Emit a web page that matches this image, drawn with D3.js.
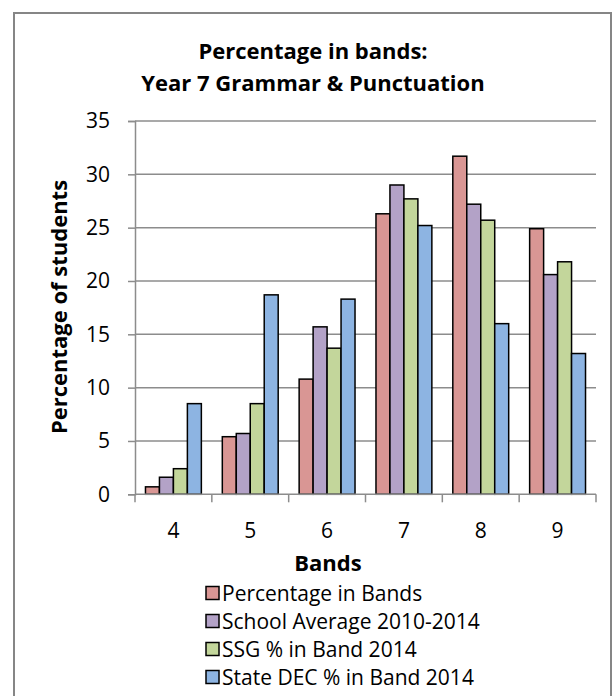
<!DOCTYPE html>
<html>
<head>
<meta charset="utf-8">
<script src="https://cdn.jsdelivr.net/npm/d3@7"></script>
<style>
  body { margin: 0; background: #fff; }
  svg { display: block; font-family: 'Open Sans', sans-serif; }
</style>
</head>
<body>
<svg width="614" height="696"></svg>
<script>
// chart data
var bands = ['4', '5', '6', '7', '8', '9'];
var seriesNames = ['Percentage in Bands', 'School Average 2010-2014', 'SSG % in Band 2014', 'State DEC % in Band 2014'];
var pctInBands = [0.7, 5.4, 10.8, 26.3, 31.7, 24.9];
var schoolAvg = [1.6, 5.7, 15.7, 29.0, 27.2, 20.6];
var ssgPct = [2.4, 8.5, 13.7, 27.7, 25.7, 21.8];
var stateDecPct = [8.5, 18.7, 18.3, 25.2, 16.0, 13.2];
var yTicks = [0, 5, 10, 15, 20, 25, 30, 35];
var colors = ['#D99694', '#B3A2C7', '#C3D69B', '#8DB4E2'];

var allSeries = [pctInBands, schoolAvg, ssgPct, stateDecPct];

var svg = d3.select('svg');

// outer chart border
svg.append('rect')
    .attr('x', 14).attr('y', 13)
    .attr('width', 597).attr('height', 720)
    .attr('fill', 'none')
    .attr('stroke', '#868686')
    .attr('stroke-width', 2);

var plot = {l: 135, r: 596, t: 121, b: 494.3};

var x0 = d3.scaleBand().domain(bands).range([plot.l, plot.r]);
var x1 = d3.scaleBand().domain(d3.range(seriesNames.length))
    .range([0, x0.bandwidth()]).paddingOuter(0.75);
var y = d3.scaleLinear().domain([0, 35]).range([plot.b, plot.t]);

// gridlines
svg.append('g').selectAll('line')
    .data(yTicks.slice(1))
    .join('line')
    .attr('x1', plot.l).attr('x2', plot.r)
    .attr('y1', function(d) { return y(d); })
    .attr('y2', function(d) { return y(d); })
    .attr('stroke', '#8c8c8c')
    .attr('stroke-width', 1.5);

// y axis
var yAx = svg.append('g')
    .attr('transform', 'translate(' + plot.l + ',0)')
    .call(d3.axisLeft(y).tickValues(yTicks).tickSize(7).tickPadding(18));
yAx.select('.domain').attr('stroke', '#8c8c8c').attr('stroke-width', 1.5);
yAx.selectAll('.tick line').attr('stroke', '#8c8c8c').attr('stroke-width', 1.5);
yAx.selectAll('.tick text').attr('font-size', 21).attr('fill', '#000')
    .attr('font-family', "'Open Sans', sans-serif");

// bars
var groups = svg.append('g').selectAll('g')
    .data(bands)
    .join('g')
    .attr('transform', function(d) { return 'translate(' + x0(d) + ',0)'; });

groups.selectAll('rect')
    .data(function(d, i) {
        return allSeries.map(function(s, k) { return {k: k, v: s[i]}; });
    })
    .join('rect')
    .attr('x', function(d) { return x1(d.k); })
    .attr('width', x1.bandwidth())
    .attr('y', function(d) { return y(d.v); })
    .attr('height', function(d) { return y(0) - y(d.v); })
    .attr('fill', function(d) { return colors[d.k]; })
    .attr('stroke', '#000')
    .attr('stroke-width', 1.5);

// x axis: line, boundary ticks, labels
var xAx = svg.append('g');
xAx.append('line')
    .attr('x1', plot.l).attr('x2', plot.r)
    .attr('y1', plot.b).attr('y2', plot.b)
    .attr('stroke', '#8c8c8c').attr('stroke-width', 1.5);
var bounds = bands.map(function(d) { return x0(d); }).concat([plot.r]);
xAx.selectAll('.bt')
    .data(bounds)
    .join('line')
    .attr('class', 'bt')
    .attr('x1', function(d) { return d; }).attr('x2', function(d) { return d; })
    .attr('y1', plot.b).attr('y2', plot.b + 8)
    .attr('stroke', '#8c8c8c').attr('stroke-width', 1.5);
xAx.selectAll('text')
    .data(bands)
    .join('text')
    .attr('x', function(d) { return x0(d) + x0.bandwidth() / 2; })
    .attr('y', 538)
    .attr('text-anchor', 'middle')
    .attr('font-size', 21)
    .text(function(d) { return d; });

// titles
var title = svg.append('text')
    .attr('text-anchor', 'middle')
    .attr('font-size', 22)
    .attr('font-weight', 'bold');
title.append('tspan').attr('x', 313).attr('y', 59).text('Percentage in bands:');
title.append('tspan').attr('x', 313).attr('y', 91).text('Year 7 Grammar & Punctuation');

svg.append('text')
    .attr('transform', 'translate(67,307) rotate(-90)')
    .attr('text-anchor', 'middle')
    .attr('font-size', 22)
    .attr('font-weight', 'bold')
    .text('Percentage of students');

svg.append('text')
    .attr('x', 328).attr('y', 571)
    .attr('text-anchor', 'middle')
    .attr('font-size', 22)
    .attr('font-weight', 'bold')
    .text('Bands');

// legend
var legend = svg.append('g').selectAll('g')
    .data(seriesNames)
    .join('g')
    .attr('transform', function(d, i) { return 'translate(206,' + (593 + i * 28) + ')'; });
legend.append('rect')
    .attr('x', 0).attr('y', -6.5)
    .attr('width', 13).attr('height', 13)
    .attr('fill', function(d, i) { return colors[i]; })
    .attr('stroke', '#000').attr('stroke-width', 1.5);
legend.append('text')
    .attr('x', 16).attr('y', 8)
    .attr('font-size', 21)
    .text(function(d) { return d; });
</script>
</body>
</html>
